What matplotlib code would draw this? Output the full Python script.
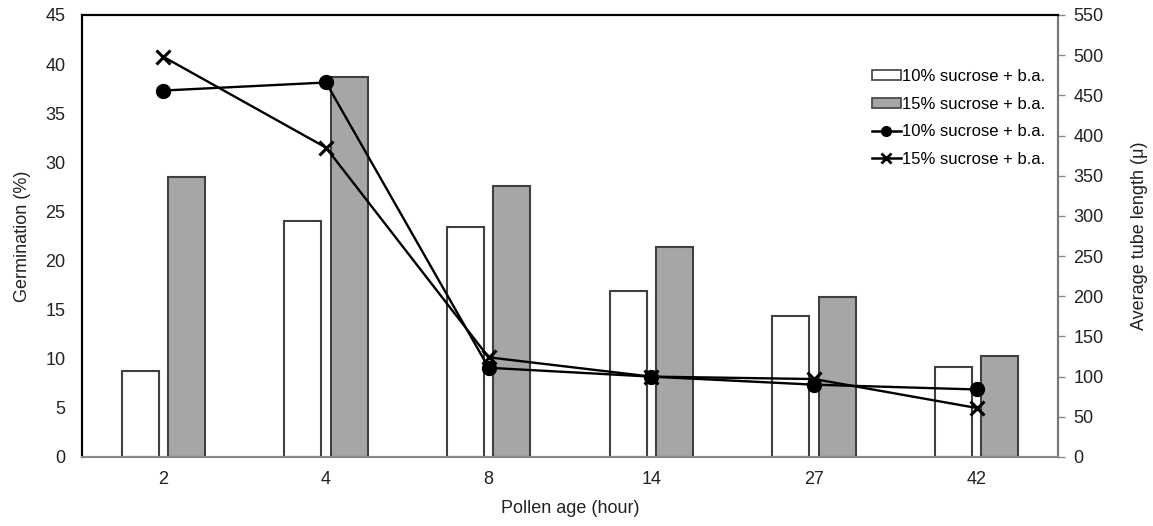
import numpy as np
import matplotlib.pyplot as plt
from matplotlib.lines import Line2D
from matplotlib.patches import Patch

plt.rcParams['font.family'] = ['Liberation Sans', 'DejaVu Sans']

# %% data
pollen_age = ['2', '4', '8', '14', '27', '42']
germ_10 = [8.8, 24.0, 23.4, 16.9, 14.4, 9.2]
germ_15 = [28.5, 38.7, 27.6, 21.4, 16.3, 10.3]
tube_10 = [456, 466, 111, 100, 90, 84]
tube_15 = [498, 385, 124, 100, 97, 61]

label_10 = '10% sucrose + b.a.'
label_15 = '15% sucrose + b.a.'

# %% plot
fig = plt.figure(figsize=(11.53, 5.26), dpi=100)
ax = fig.add_axes([0.0711, 0.1312, 0.8465, 0.8403])
x = np.arange(len(pollen_age))
w = 0.227
off = 0.143
edge = '#404040'

ax.bar(x - off, germ_10, width=w, color='white', edgecolor=edge, linewidth=1.5)
ax.bar(x + off, germ_15, width=w, color='#a6a6a6', edgecolor=edge, linewidth=1.5)
ax.set_xlim(-0.5, 5.5)
ax.set_ylim(0, 45)
ax.set_yticks(range(0, 46, 5))
ax.set_xticks(x)
ax.set_xticklabels(pollen_age)
ax.tick_params(axis='y', length=0, pad=12, labelsize=13, colors='#222222')
ax.tick_params(axis='x', length=0, pad=10, labelsize=13, colors='#222222')
ax.set_ylabel('Germination (%)', fontsize=13, color='#222222', labelpad=10)
ax.set_xlabel('Pollen age (hour)', fontsize=13, color='#222222', labelpad=9)

ax2 = ax.twinx()
ax2.plot(x, tube_10, color='black', lw=1.7, marker='o', ms=10)
ax2.plot(x, tube_15, color='black', lw=1.7, marker='x', ms=10, mew=2.2)
ax2.set_ylim(0, 550)
ax2.set_yticks(range(0, 551, 50))
ax2.tick_params(axis='y', length=5, width=1, color='#888888', pad=6,
                labelsize=13, labelcolor='#222222')
ax2.set_ylabel('Average tube length (μ)', fontsize=13, color='#222222', labelpad=20)

for a in (ax, ax2):
    a.spines['top'].set_color('black')
    a.spines['top'].set_linewidth(1.5)
    a.spines['left'].set_color('black')
    a.spines['left'].set_linewidth(1.5)
    a.spines['bottom'].set_color('#888888')
    a.spines['bottom'].set_linewidth(1.5)
    a.spines['right'].set_color('#777777')
    a.spines['right'].set_linewidth(1.5)

handles = [
    Patch(facecolor='white', edgecolor=edge, linewidth=1.2),
    Patch(facecolor='#a6a6a6', edgecolor=edge, linewidth=1.2),
    Line2D([], [], color='black', lw=1.8, marker='o', ms=7),
    Line2D([], [], color='black', lw=1.8, marker='x', ms=7, mew=2),
]
fig.legend(handles, [label_10, label_15, label_10, label_15],
           loc='upper left', bbox_to_anchor=(864 / 1153, 1 - 61 / 526),
           frameon=False, fontsize=12, handlelength=1.7, handleheight=0.55,
           handletextpad=0.1, labelspacing=0.75, borderpad=0)

fig.savefig('out.png', dpi=100)
